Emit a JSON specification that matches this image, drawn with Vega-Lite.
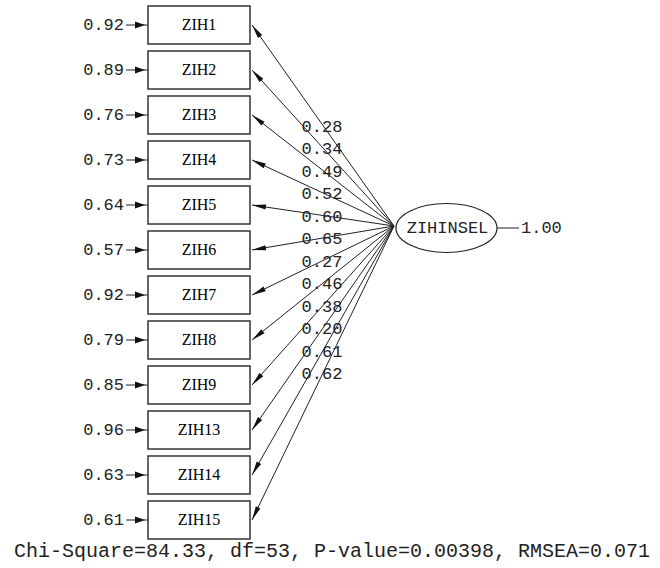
{
  "$schema": "https://vega.github.io/schema/vega-lite/v6.json",
  "width": 660,
  "height": 568,
  "padding": 0,
  "autosize": {"type": "none"},
  "background": "white",
  "config": {"view": {"stroke": null}},
  "datasets": {
    "items": [
      {"item": "ZIH1", "i": 1, "loading": 0.28, "error": 0.92},
      {"item": "ZIH2", "i": 2, "loading": 0.34, "error": 0.89},
      {"item": "ZIH3", "i": 3, "loading": 0.49, "error": 0.76},
      {"item": "ZIH4", "i": 4, "loading": 0.52, "error": 0.73},
      {"item": "ZIH5", "i": 5, "loading": 0.60, "error": 0.64},
      {"item": "ZIH6", "i": 6, "loading": 0.65, "error": 0.57},
      {"item": "ZIH7", "i": 7, "loading": 0.27, "error": 0.92},
      {"item": "ZIH8", "i": 8, "loading": 0.46, "error": 0.79},
      {"item": "ZIH9", "i": 9, "loading": 0.38, "error": 0.85},
      {"item": "ZIH13", "i": 10, "loading": 0.20, "error": 0.96},
      {"item": "ZIH14", "i": 11, "loading": 0.61, "error": 0.63},
      {"item": "ZIH15", "i": 12, "loading": 0.62, "error": 0.61}
    ],
    "latent": [{"name": "ZIHINSEL", "variance": 1.00}],
    "fit": [{"label": "Chi-Square=84.33, df=53, P-value=0.00398, RMSEA=0.071"}]
  },
  "resolve": {"scale": {"y": "independent"}},
  "layer": [
    {
      "layer": [
        {
          "data": {"name": "items"},
          "mark": {"type": "rule", "color": "#222", "strokeWidth": 1},
          "encoding": {
            "x": {"datum": 126, "type": "quantitative", "scale": {"domain": [0, 660], "nice": false, "zero": false}, "axis": null},
            "x2": {"datum": 148},
            "y": {"field": "i", "type": "quantitative", "scale": {"domain": [1, 12], "range": [25, 520], "nice": false, "zero": false}, "axis": null}
          }
        },
        {
          "data": {"name": "items"},
          "mark": {"type": "point", "shape": "M0,0 L-1,-0.35 L-1,0.35 Z", "size": 400, "filled": true, "color": "#111", "opacity": 1},
          "encoding": {
            "x": {"datum": 145, "type": "quantitative", "scale": {"domain": [0, 660], "nice": false, "zero": false}, "axis": null},
            "y": {"field": "i", "type": "quantitative", "scale": {"domain": [1, 12], "range": [25, 520], "nice": false, "zero": false}, "axis": null}
          }
        },
        {
          "data": {"name": "items"},
          "mark": {"type": "text", "align": "right", "baseline": "middle", "font": "Liberation Mono", "fontSize": 17, "color": "#222"},
          "encoding": {
            "x": {"datum": 124, "type": "quantitative", "scale": {"domain": [0, 660], "nice": false, "zero": false}, "axis": null},
            "y": {"field": "i", "type": "quantitative", "scale": {"domain": [1, 12], "range": [25, 520], "nice": false, "zero": false}, "axis": null},
            "text": {"field": "error", "type": "quantitative", "format": ".2f"}
          }
        },
        {
          "data": {"name": "items"},
          "mark": {"type": "rule", "color": "#222", "strokeWidth": 1},
          "encoding": {
            "x": {"datum": 252, "type": "quantitative", "scale": {"domain": [0, 660], "nice": false, "zero": false}, "axis": null},
            "x2": {"datum": 394},
            "y": {"field": "i", "type": "quantitative", "scale": {"domain": [1, 12], "range": [25, 520], "nice": false, "zero": false}, "axis": null},
            "y2": {"datum": 5.467}
          }
        },
        {
          "data": {"name": "items"},
          "mark": {"type": "point", "shape": "M0,0 L1,-0.18 L1,0.18 Z", "size": 784, "filled": true, "color": "#111", "opacity": 1},
          "encoding": {
            "x": {"datum": 252, "type": "quantitative", "scale": {"domain": [0, 660], "nice": false, "zero": false}, "axis": null},
            "y": {"field": "i", "type": "quantitative", "scale": {"domain": [1, 12], "range": [25, 520], "nice": false, "zero": false}, "axis": null},
            "angle": {"field": "i", "type": "quantitative", "legend": null, "scale": {"domain": [1, 2, 3, 4, 5, 6, 7, 8, 9, 10, 11, 12], "range": [54.8, 47.7, 38.0, 24.9, 8.4, -9.6, -25.9, -38.8, -48.2, -55.2, -60.3, -64.2]}}
          }
        },
        {
          "data": {"name": "items"},
          "mark": {"type": "point", "shape": "M-1,-0.373 L1,-0.373 L1,0.373 L-1,0.373 Z", "size": 10404, "fill": "white", "stroke": "#333", "strokeWidth": 1.5, "opacity": 1, "fillOpacity": 1},
          "encoding": {
            "x": {"datum": 199, "type": "quantitative", "scale": {"domain": [0, 660], "nice": false, "zero": false}, "axis": null},
            "y": {"field": "i", "type": "quantitative", "scale": {"domain": [1, 12], "range": [25, 520], "nice": false, "zero": false}, "axis": null}
          }
        },
        {
          "data": {"name": "items"},
          "mark": {"type": "text", "align": "center", "baseline": "middle", "font": "Liberation Serif", "fontSize": 16, "color": "#000"},
          "encoding": {
            "x": {"datum": 199, "type": "quantitative", "scale": {"domain": [0, 660], "nice": false, "zero": false}, "axis": null},
            "y": {"field": "i", "type": "quantitative", "scale": {"domain": [1, 12], "range": [25, 520], "nice": false, "zero": false}, "axis": null},
            "text": {"field": "item", "type": "nominal"}
          }
        },
        {
          "data": {"name": "latent"},
          "mark": {"type": "point", "shape": "M-1,0 C-1,-0.268 -0.552,-0.485 0,-0.485 C0.552,-0.485 1,-0.268 1,0 C1,0.268 0.552,0.485 0,0.485 C-0.552,0.485 -1,0.268 -1,0 Z", "size": 10201, "fill": "white", "stroke": "#222", "strokeWidth": 1.2, "opacity": 1, "fillOpacity": 1},
          "encoding": {
            "x": {"datum": 446.5, "type": "quantitative", "scale": {"domain": [0, 660], "nice": false, "zero": false}, "axis": null},
            "y": {"datum": 5.511, "type": "quantitative", "scale": {"domain": [1, 12], "range": [25, 520], "nice": false, "zero": false}, "axis": null}
          }
        },
        {
          "data": {"name": "latent"},
          "mark": {"type": "text", "align": "center", "baseline": "middle", "font": "Liberation Mono", "fontSize": 17, "color": "#222"},
          "encoding": {
            "x": {"datum": 447.5, "type": "quantitative", "scale": {"domain": [0, 660], "nice": false, "zero": false}, "axis": null},
            "y": {"datum": 5.511, "type": "quantitative", "scale": {"domain": [1, 12], "range": [25, 520], "nice": false, "zero": false}, "axis": null},
            "text": {"field": "name", "type": "nominal"}
          }
        },
        {
          "data": {"name": "latent"},
          "mark": {"type": "rule", "color": "#222", "strokeWidth": 1},
          "encoding": {
            "x": {"datum": 497, "type": "quantitative", "scale": {"domain": [0, 660], "nice": false, "zero": false}, "axis": null},
            "x2": {"datum": 519},
            "y": {"datum": 5.511, "type": "quantitative", "scale": {"domain": [1, 12], "range": [25, 520], "nice": false, "zero": false}, "axis": null}
          }
        },
        {
          "data": {"name": "latent"},
          "mark": {"type": "text", "align": "left", "baseline": "middle", "font": "Liberation Mono", "fontSize": 17, "color": "#222"},
          "encoding": {
            "x": {"datum": 521, "type": "quantitative", "scale": {"domain": [0, 660], "nice": false, "zero": false}, "axis": null},
            "y": {"datum": 5.511, "type": "quantitative", "scale": {"domain": [1, 12], "range": [25, 520], "nice": false, "zero": false}, "axis": null},
            "text": {"field": "variance", "type": "quantitative", "format": ".2f"}
          }
        },
        {
          "data": {"name": "fit"},
          "mark": {"type": "text", "align": "center", "baseline": "middle", "font": "Liberation Mono", "fontSize": 20, "color": "#222"},
          "encoding": {
            "x": {"datum": 332, "type": "quantitative", "scale": {"domain": [0, 660], "nice": false, "zero": false}, "axis": null},
            "y": {"datum": 12.69, "type": "quantitative", "scale": {"domain": [1, 12], "range": [25, 520], "nice": false, "zero": false}, "axis": null},
            "text": {"field": "label", "type": "nominal"}
          }
        }
      ]
    },
    {
      "data": {"name": "items"},
      "mark": {"type": "text", "align": "center", "baseline": "middle", "font": "Liberation Mono", "fontSize": 17, "color": "#222"},
      "encoding": {
        "x": {"datum": 322, "type": "quantitative", "scale": {"domain": [0, 660], "nice": false, "zero": false}, "axis": null},
        "y": {"field": "i", "type": "quantitative", "scale": {"domain": [1, 12], "range": [127, 374], "nice": false, "zero": false}, "axis": null},
        "text": {"field": "loading", "type": "quantitative", "format": ".2f"}
      }
    }
  ]
}
